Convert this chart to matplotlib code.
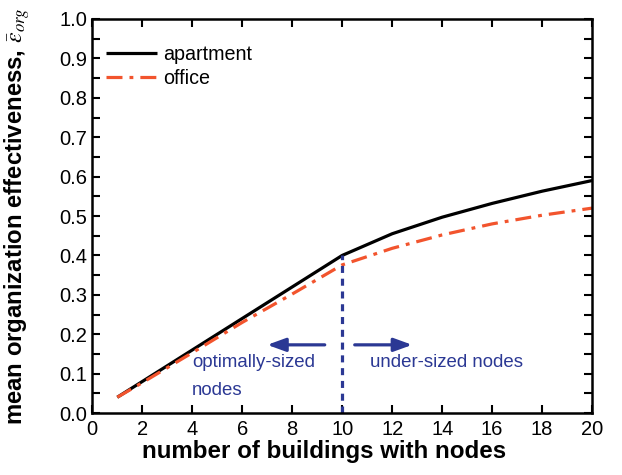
import matplotlib
matplotlib.use("Agg")
import matplotlib.pyplot as plt
from matplotlib.ticker import MultipleLocator, FormatStrFormatter

plt.rcParams['font.family'] = ['Liberation Sans', 'DejaVu Sans']
plt.rcParams['mathtext.fontset'] = 'stix'

x = [1, 2, 4, 6, 8, 10, 12, 14, 16, 18, 20]
apartment = [0.04, 0.08, 0.16, 0.24, 0.32, 0.40, 0.455, 0.497, 0.532, 0.563, 0.59]
office = [0.04, 0.077, 0.153, 0.23, 0.302, 0.376, 0.418, 0.452, 0.48, 0.502, 0.52]

threshold_x = 10
threshold_y = 0.40

fig = plt.figure(figsize=(6.22, 4.75), dpi=100)
ax = fig.add_axes([0.1484, 0.1305, 0.8036, 0.8295])

ax.plot(x, apartment, color='black', lw=2.3, label='apartment', solid_capstyle='butt')
ax.plot(x, office, color='#F2542D', lw=2.3, label='office', dashes=[5, 2.2, 1.2, 2.2])

blue = '#2B3894'
ax.plot([threshold_x, threshold_x], [0, threshold_y], color=blue, lw=2.3,
        dashes=[2.2, 1.8])

ax.annotate('', xy=(7.0, 0.173), xytext=(9.3, 0.173),
            arrowprops=dict(arrowstyle='-|>,head_length=1.1,head_width=0.4', color=blue, lw=2.3,
                            shrinkA=0, shrinkB=0))
ax.annotate('', xy=(12.8, 0.173), xytext=(10.5, 0.173),
            arrowprops=dict(arrowstyle='-|>,head_length=1.1,head_width=0.4', color=blue, lw=2.3,
                            shrinkA=0, shrinkB=0))
ax.text(4.0, 0.127, 'optimally-sized', color=blue, fontsize=13.4, va='center', ha='left')
ax.text(4.0, 0.058, 'nodes', color=blue, fontsize=13.4, va='center', ha='left')
ax.text(11.1, 0.127, 'under-sized nodes', color=blue, fontsize=13.4, va='center', ha='left')

ax.set_xlim(0, 20)
ax.set_ylim(0, 1.0)
ax.xaxis.set_major_locator(MultipleLocator(2))
ax.yaxis.set_major_locator(MultipleLocator(0.1))
ax.yaxis.set_minor_locator(MultipleLocator(0.05))
ax.yaxis.set_major_formatter(FormatStrFormatter('%.1f'))
ax.tick_params(which='both', direction='in', top=True, right=True, width=1.5, labelsize=14.5)
ax.tick_params(which='major', length=6)
ax.tick_params(which='minor', length=6)
ax.tick_params(axis='x', pad=5)
for s in ax.spines.values():
    s.set_linewidth(1.8)

ax.set_xlabel('number of buildings with nodes', fontsize=17.4, fontweight='bold')
ax.xaxis.set_label_coords(0.463, -0.068)
ax.set_ylabel(r'mean organization effectiveness, $\bar{\varepsilon}_{org}$', fontsize=17.2,
              fontweight='bold')
ax.yaxis.set_label_coords(-0.12, 0.5)

leg = ax.legend(loc='upper left', bbox_to_anchor=(0.0, 0.97), frameon=False, fontsize=14.2,
                handlelength=2.6, handletextpad=0.3, labelspacing=0.25, borderaxespad=0.3)

fig.savefig('out.png', dpi=100)
